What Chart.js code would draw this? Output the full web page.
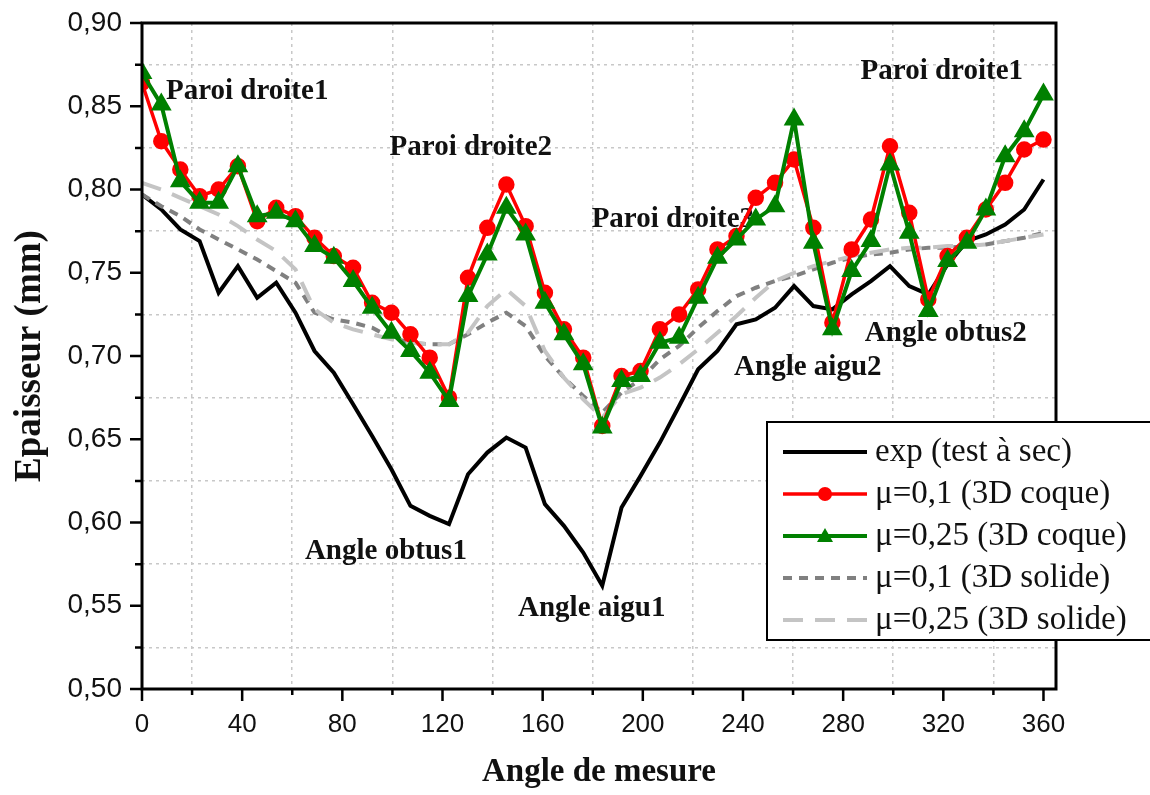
<!DOCTYPE html>
<html>
<head>
<meta charset="utf-8">
<script src="https://cdn.jsdelivr.net/npm/chart.js@4.4.1/dist/chart.umd.min.js"></script>
<style>
  html, body { margin: 0; padding: 0; background: #fff; }
  #wrap { width: 1150px; height: 795px; }
</style>
</head>
<body>
<div id="wrap"><canvas id="thicknessChart" width="1150" height="795"></canvas></div>
<script>
(function () {
    "use strict";

    // measuring angles (deg)
    var angles = [0, 7.7, 15.3, 23, 30.6, 38.3, 46, 53.6, 61.3, 68.9,
        76.6, 84.3, 91.9, 99.6, 107.2, 114.9, 122.6, 130.2, 137.9, 145.5,
        153.2, 160.9, 168.5, 176.2, 183.8, 191.5, 199.1, 206.8, 214.5, 222.1,
        229.8, 237.4, 245.1, 252.8, 260.4, 268.1, 275.7, 283.4, 291.1, 298.7,
        306.4, 314, 321.7, 329.4, 337, 344.7, 352.3, 360];

    var expDry = [0.797, 0.788, 0.776, 0.769, 0.738, 0.754, 0.735, 0.744, 0.726, 0.703,
        0.690, 0.671, 0.652, 0.632, 0.610, 0.604, 0.599, 0.629, 0.642, 0.651,
        0.645, 0.611, 0.598, 0.582, 0.562, 0.609, 0.628, 0.648, 0.670, 0.692,
        0.703, 0.719, 0.722, 0.729, 0.742, 0.730, 0.728, 0.737, 0.745, 0.754,
        0.742, 0.737, 0.755, 0.769, 0.773, 0.779, 0.788, 0.806];

    var shellMu01 = [0.864, 0.829, 0.812, 0.796, 0.800, 0.814, 0.781, 0.789, 0.784, 0.771,
        0.760, 0.753, 0.732, 0.726, 0.713, 0.699, 0.675, 0.747, 0.777, 0.803,
        0.778, 0.738, 0.716, 0.699, 0.658, 0.688, 0.691, 0.716, 0.725, 0.740,
        0.764, 0.772, 0.795, 0.804, 0.818, 0.777, 0.720, 0.764, 0.782, 0.826,
        0.786, 0.734, 0.760, 0.771, 0.788, 0.804, 0.824, 0.830];

    var shellMu025 = [0.870, 0.851, 0.805, 0.792, 0.792, 0.814, 0.784, 0.786, 0.781, 0.766,
        0.759, 0.745, 0.729, 0.714, 0.703, 0.690, 0.673, 0.736, 0.761, 0.789,
        0.773, 0.732, 0.713, 0.695, 0.657, 0.685, 0.688, 0.708, 0.711, 0.735,
        0.759, 0.770, 0.782, 0.790, 0.842, 0.768, 0.716, 0.751, 0.769, 0.815,
        0.774, 0.727, 0.757, 0.768, 0.788, 0.820, 0.835, 0.857];

    var solidMu01 = [0.797, 0.790, 0.784, 0.776, 0.770, 0.764, 0.758, 0.751, 0.744, 0.726,
        0.722, 0.720, 0.717, 0.711, 0.708, 0.707, 0.707, 0.713, 0.720, 0.726,
        0.718, 0.700, 0.687, 0.676, 0.666, 0.678, 0.686, 0.698, 0.706, 0.717,
        0.727, 0.736, 0.741, 0.745, 0.748, 0.752, 0.756, 0.759, 0.761, 0.762,
        0.764, 0.765, 0.765, 0.766, 0.767, 0.769, 0.771, 0.774];

    var solidMu025 = [0.804, 0.800, 0.795, 0.790, 0.785, 0.778, 0.770, 0.763, 0.752, 0.728,
        0.720, 0.716, 0.713, 0.710, 0.708, 0.707, 0.707, 0.714, 0.730, 0.740,
        0.730, 0.703, 0.687, 0.674, 0.663, 0.677, 0.681, 0.687, 0.695, 0.704,
        0.714, 0.724, 0.735, 0.745, 0.750, 0.754, 0.757, 0.760, 0.762, 0.764,
        0.765, 0.765, 0.766, 0.766, 0.767, 0.769, 0.771, 0.773];

    var seriesLabels = ["exp (test à sec)", "μ=0,1 (3D coque)", "μ=0,25 (3D coque)",
        "μ=0,1 (3D solide)", "μ=0,25 (3D solide)"];

    // text notes on the plot, placed in data units
    var notes = [
        { text: "Paroi droite1", x: 42, y: 0.8586 },
        { text: "Paroi droite2", x: 131.3, y: 0.8255 },
        { text: "Paroi droite3", x: 212, y: 0.7817 },
        { text: "Paroi droite1", x: 319.4, y: 0.8706 },
        { text: "Angle obtus1", x: 97.4, y: 0.5823 },
        { text: "Angle aigu1", x: 179.6, y: 0.5486 },
        { text: "Angle aigu2", x: 265.9, y: 0.6928 },
        { text: "Angle obtus2", x: 321, y: 0.7138 }
    ];

    function toPoints(values) {
        return values.map(function (v, i) { return { x: angles[i], y: v }; });
    }

    function isMajorX(v) { return Math.round(v) % 40 === 0; }
    function isMajorY(v) { return Math.round(v * 1000) % 50 === 0; }

    var notesPlugin = {
        id: "notes",
        beforeDatasetsDraw: function (chart) {
            var ctx = chart.ctx, sx = chart.scales.x, sy = chart.scales.y;
            ctx.save();
            ctx.fillStyle = "#111";
            ctx.font = "bold 29px 'Liberation Serif'";
            ctx.textAlign = "center";
            ctx.textBaseline = "middle";
            notes.forEach(function (n) {
                ctx.fillText(n.text, sx.getPixelForValue(n.x), sy.getPixelForValue(n.y));
            });
            ctx.restore();
        }
    };

    var framePlugin = {
        id: "frame",
        afterDatasetsDraw: function (chart) {
            var ctx = chart.ctx, a = chart.chartArea;
            var sx = chart.scales.x, sy = chart.scales.y;
            ctx.save();
            ctx.strokeStyle = "#000";
            ctx.lineWidth = 3;
            ctx.strokeRect(a.left, a.top, a.right - a.left, a.bottom - a.top);
            ctx.lineWidth = 2.5;
            ctx.beginPath();
            sx.ticks.forEach(function (t) {
                var px = sx.getPixelForValue(t.value);
                ctx.moveTo(px, a.bottom);
                ctx.lineTo(px, a.bottom + (isMajorX(t.value) ? 12 : 6));
            });
            sy.ticks.forEach(function (t) {
                var py = sy.getPixelForValue(t.value);
                ctx.moveTo(a.left, py);
                ctx.lineTo(a.left - (isMajorY(t.value) ? 12 : 7), py);
            });
            ctx.stroke();
            ctx.restore();
        }
    };

    var legendPlugin = {
        id: "boxLegend",
        afterDraw: function (chart) {
            var ctx = chart.ctx;
            var left = 767, top = 422, bottom = 640, rowY = 452, rowGap = 42;
            ctx.save();
            ctx.fillStyle = "#fff";
            ctx.fillRect(left, top, 1160 - left, bottom - top);
            ctx.strokeStyle = "#000";
            ctx.lineWidth = 2;
            ctx.strokeRect(left, top, 1160 - left, bottom - top);
            chart.data.datasets.forEach(function (ds, i) {
                var y = rowY + i * rowGap;
                ctx.save();
                ctx.strokeStyle = ds.borderColor;
                ctx.lineWidth = ds.borderWidth;
                ctx.setLineDash(ds.borderDash || []);
                ctx.beginPath();
                ctx.moveTo(783, y);
                ctx.lineTo(867, y);
                ctx.stroke();
                ctx.restore();
                if (ds.pointRadius > 0) {
                    ctx.fillStyle = ds.borderColor;
                    ctx.beginPath();
                    if (ds.pointStyle === "triangle") {
                        ctx.moveTo(825, y - 8);
                        ctx.lineTo(833, y + 6);
                        ctx.lineTo(817, y + 6);
                        ctx.closePath();
                    } else {
                        ctx.arc(825, y, 7, 0, Math.PI * 2);
                    }
                    ctx.fill();
                }
                ctx.fillStyle = "#111";
                ctx.font = "33px 'Liberation Serif'";
                ctx.textAlign = "left";
                ctx.textBaseline = "middle";
                ctx.fillText(ds.label, 875, y);
            });
            ctx.restore();
        }
    };

    var ctx = document.getElementById("thicknessChart");
    var myChart = new Chart(ctx, {
        type: "line",
        data: {
            datasets: [
                {
                    label: seriesLabels[0],
                    data: toPoints(expDry),
                    borderColor: "#000000",
                    borderWidth: 4,
                    pointRadius: 0,
                    order: 5
                },
                {
                    label: seriesLabels[1],
                    data: toPoints(shellMu01),
                    borderColor: "#ff0000",
                    backgroundColor: "#ff0000",
                    borderWidth: 3.5,
                    pointStyle: "circle",
                    pointRadius: 6.5,
                    order: 2
                },
                {
                    label: seriesLabels[2],
                    data: toPoints(shellMu025),
                    borderColor: "#008000",
                    backgroundColor: "#008000",
                    borderWidth: 4,
                    pointStyle: "triangle",
                    pointRadius: 8,
                    order: 1
                },
                {
                    label: seriesLabels[3],
                    data: toPoints(solidMu01),
                    borderColor: "#808080",
                    borderWidth: 4,
                    borderDash: [9, 7],
                    pointRadius: 0,
                    order: 4
                },
                {
                    label: seriesLabels[4],
                    data: toPoints(solidMu025),
                    borderColor: "#c4c4c4",
                    borderWidth: 4,
                    borderDash: [20, 12],
                    pointRadius: 0,
                    order: 3
                }
            ]
        },
        options: {
            responsive: false,
            animation: false,
            layout: {
                padding: { top: 23, right: 94, left: 0, bottom: 0 }
            },
            plugins: {
                legend: { display: false },
                tooltip: { enabled: false }
            },
            elements: {
                line: { tension: 0 },
                point: { borderWidth: 1 }
            },
            scales: {
                x: {
                    type: "linear",
                    min: 0,
                    max: 365,
                    afterFit: function (scale) { scale.height = 106; },
                    ticks: {
                        stepSize: 20,
                        includeBounds: false,
                        autoSkip: false,
                        maxRotation: 0,
                        padding: 20,
                        color: "#111",
                        font: { family: "'Liberation Sans'", size: 26 },
                        callback: function (v) { return isMajorX(v) ? String(v) : ""; }
                    },
                    grid: {
                        drawTicks: false,
                        lineWidth: 1.5,
                        color: function (c) {
                            return c.tick && !isMajorX(c.tick.value) ? "#c8c8c8" : "rgba(0,0,0,0)";
                        }
                    },
                    border: { display: false, dash: [3, 4] },
                    title: {
                        display: true,
                        text: "Angle de mesure",
                        color: "#111",
                        font: { family: "'Liberation Serif'", size: 33, weight: "bold" },
                        padding: { top: 0, bottom: 3 }
                    }
                },
                y: {
                    min: 0.5,
                    max: 0.9,
                    afterFit: function (scale) {
                        scale.width = 142;
                        scale.paddingTop = 0;
                        scale.paddingBottom = 0;
                    },
                    ticks: {
                        stepSize: 0.025,
                        includeBounds: false,
                        autoSkip: false,
                        padding: 20,
                        color: "#111",
                        font: { family: "'Liberation Sans'", size: 28 },
                        callback: function (v) {
                            return isMajorY(v) ? v.toFixed(2).replace(".", ",") : "";
                        }
                    },
                    grid: {
                        drawTicks: false,
                        lineWidth: 1.5,
                        color: function (c) {
                            return c.tick && !isMajorY(c.tick.value) ? "#c8c8c8" : "rgba(0,0,0,0)";
                        }
                    },
                    border: { display: false, dash: [3, 4] },
                    title: {
                        display: true,
                        text: "Epaisseur (mm)",
                        color: "#111",
                        font: { family: "'Liberation Serif'", size: 37, weight: "bold" },
                        padding: { top: 8, bottom: 0 }
                    }
                }
            }
        },
        plugins: [notesPlugin, framePlugin, legendPlugin]
    });
})();
</script>
</body>
</html>
